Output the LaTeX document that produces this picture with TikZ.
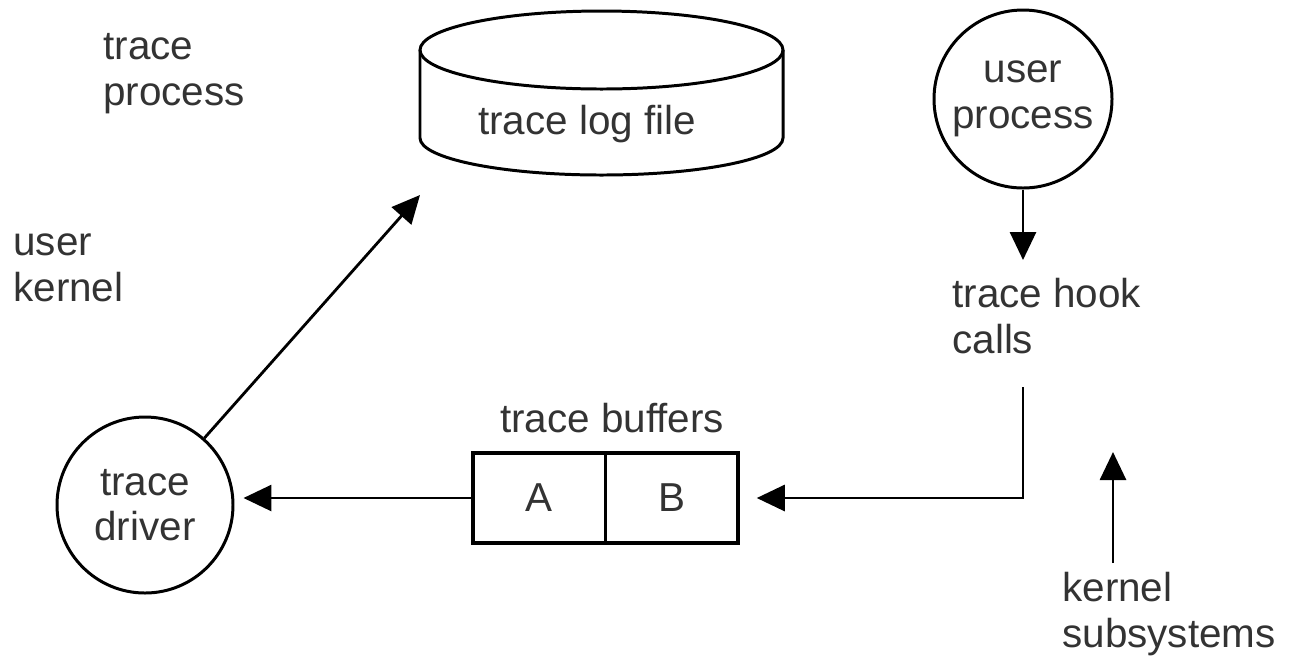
\documentclass[tikz,border=0pt]{standalone}
\usepackage{fontspec}
\setmainfont{Liberation Sans}
\usetikzlibrary{arrows.meta,positioning}

\begin{document}
\begin{tikzpicture}
  [font=\fontsize{23}{26}\selectfont,
    every node/.style={text=black!80},
    label/.style={align=left,inner sep=0pt},
    proc/.style={circle,draw,line width=1.7pt,align=center,inner sep=0pt},
    buf/.style={draw,line width=2pt,minimum width=2.65cm,minimum height=1.8cm,inner sep=0pt,outer sep=0pt},
    arr/.style={-{Triangle[length=0.56cm,width=0.52cm]},line width=1.6pt}]
  \useasboundingbox (0,0) rectangle (25.78,-13.12);
  % side labels
  \node[label,anchor=north west] (tp) at (2.06,-0.67) {trace\\process};
  \node[label,anchor=north west] (uk) at (0.26,-4.67) {user\\kernel};
  % log file
  \draw[line width=1.7pt] (8.4,-1.0) -- (8.4,-2.76) arc (180:360:3.63cm and 0.74cm) -- (15.66,-1.0);
  \draw[line width=1.7pt] (12.03,-1.0) ellipse (3.63cm and 0.78cm);
  \node[label,anchor=north] (log) at (11.74,-2.1) {trace log file};
  \coordinate (logtip) at (8.4,-3.9);
  % processes
  \node[proc,minimum size=3.56cm] (usr) at (20.46,-1.98) {user\\process};
  \node[proc,minimum size=3.52cm] (drv) at (2.9,-10.1) {trace\\driver};
  \node[label,anchor=north west] (hook) at (19.04,-5.56) {trace hook\\calls};
  \coordinate (hooktop) at (20.46,-5.2);
  \coordinate (hookbot) at (20.46,-7.74);
  % buffers
  \node[buf] (bufA) at (10.78,-9.96) {A};
  \node[buf,right=0cm of bufA] (bufB) {B};
  \node[label,anchor=north] (bufs) at (12.24,-8.06) {trace buffers};
  \node[label,anchor=north west] (ks) at (21.24,-11.44) {kernel\\subsystems};
  \coordinate (kstip) at (22.26,-9.04);
  % arrows
  \draw[arr] (usr) -- (hooktop);
  \draw[arr,shorten >=0.38cm] (hookbot) |- (bufB.east);
  \draw[arr,shorten >=0.18cm] (bufA.west) -- (bufA.west -| drv.east);
  \draw[arr] (drv) -- (logtip);
  \draw[arr,shorten <=0.18cm] (ks.north -| kstip) -- (kstip);
\end{tikzpicture}
\end{document}
